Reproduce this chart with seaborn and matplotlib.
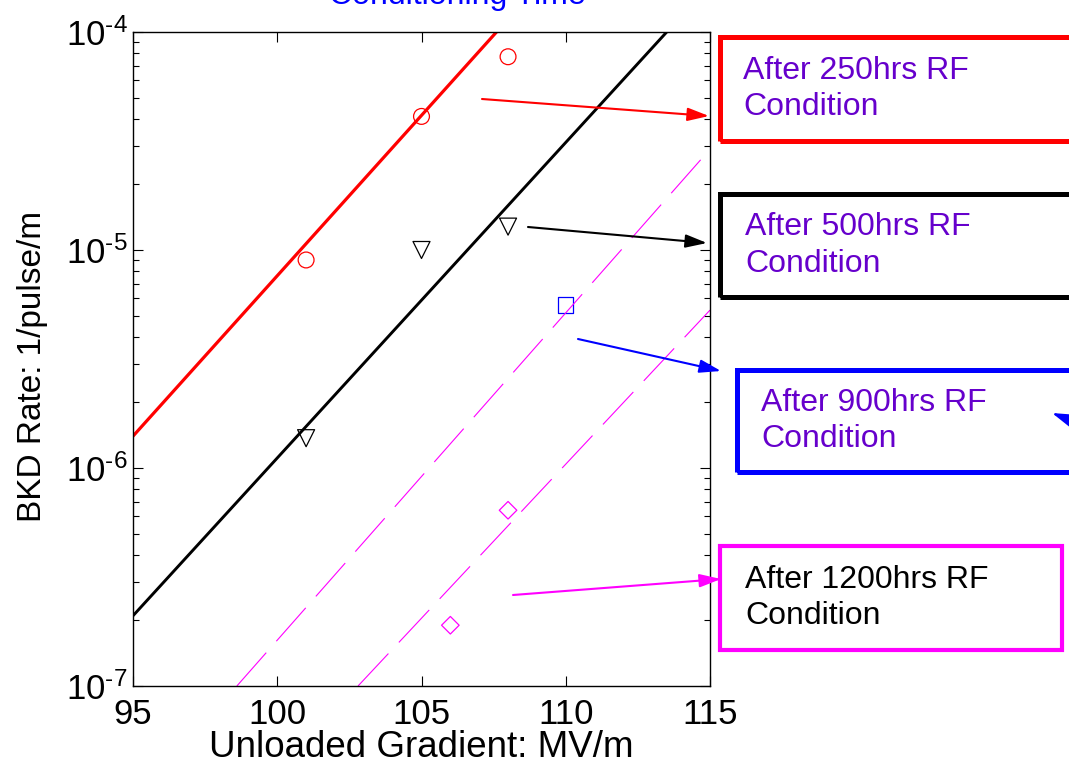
import seaborn as sns
import matplotlib.pyplot as plt
from matplotlib.patches import Rectangle
from matplotlib.ticker import LogLocator, NullFormatter, FixedLocator

# fitted lines (end points inside the visible window)
red_fit_x = [95.0, 107.6]
red_fit_y = [1.4e-6, 1.0e-4]
black_fit_x = [95.0, 113.5]
black_fit_y = [2.1e-7, 1.0e-4]
mag_fit1_x = [98.6, 115.0]
mag_fit1_y = [1.0e-7, 2.9e-5]
mag_fit2_x = [102.8, 115.0]
mag_fit2_y = [1.0e-7, 5.3e-6]

# measured points
red_x = [101, 105, 108]
red_y = [9.0e-6, 4.1e-5, 7.7e-5]
black_x = [101, 105, 108]
black_y = [1.37e-6, 1.0e-5, 1.28e-5]
blue_x = [110]
blue_y = [5.6e-6]
mag_x = [106, 108]
mag_y = [1.9e-7, 6.4e-7]

x_ticks = [95, 100, 105, 110, 115]
y_ticks = [1e-7, 1e-6, 1e-5, 1e-4]
y_tick_labels = [r"$10^{\text{-}7}$", r"$10^{\text{-}6}$",
                 r"$10^{\text{-}5}$", r"$10^{\text{-}4}$"]

box_labels = ["After 250hrs RF\nCondition", "After 500hrs RF\nCondition",
              "After 900hrs RF\nCondition", "After 1200hrs RF\nCondition"]

sns.set_style("ticks")
plt.rcParams["font.family"] = ["Liberation Sans", "DejaVu Sans"]
plt.rcParams["mathtext.fontset"] = "custom"
plt.rcParams["mathtext.rm"] = "Liberation Sans"
plt.rcParams["mathtext.it"] = "Liberation Sans"
plt.rcParams["lines.scale_dashes"] = False
for key in ["text.color", "axes.labelcolor", "xtick.color", "ytick.color"]:
    plt.rcParams[key] = "black"

W, H = 1069, 765
fig = plt.figure(figsize=(W / 100, H / 100), dpi=100)
ax = fig.add_axes([133 / W, 1 - 686 / H, (710 - 133) / W, (686 - 32) / H])


def fx(px):
    return px / W


def fy(py):
    return 1 - py / H


sns.lineplot(x=red_fit_x, y=red_fit_y, ax=ax, color="red", lw=2.3)
sns.lineplot(x=black_fit_x, y=black_fit_y, ax=ax, color="black", lw=2.1)
for xs, ys in [(mag_fit1_x, mag_fit1_y), (mag_fit2_x, mag_fit2_y)]:
    sns.lineplot(x=xs, y=ys, ax=ax, color="magenta", lw=0.8)
    ax.lines[-1].set_dashes((32, 11))

sns.scatterplot(x=red_x, y=red_y, ax=ax, marker="o", s=130,
                facecolor="none", edgecolor="red", linewidth=0.9)
sns.scatterplot(x=black_x, y=black_y, ax=ax, marker="v", s=150,
                facecolor="none", edgecolor="black", linewidth=0.9)
sns.scatterplot(x=blue_x, y=blue_y, ax=ax, marker="s", s=120,
                facecolor="none", edgecolor="blue", linewidth=0.9)
sns.scatterplot(x=mag_x, y=mag_y, ax=ax, marker="D", s=80,
                facecolor="none", edgecolor="magenta", linewidth=0.9)

ax.set_yscale("log")
ax.set_xlim(95, 115)
ax.set_ylim(1e-7, 1e-4)
ax.xaxis.set_major_locator(FixedLocator(x_ticks))
ax.set_xticklabels([str(t) for t in x_ticks], fontsize=25)
ax.yaxis.set_major_locator(FixedLocator(y_ticks))
ax.set_yticklabels(y_tick_labels, fontsize=25)
ax.yaxis.set_minor_locator(LogLocator(base=10, subs=range(2, 10)))
ax.yaxis.set_minor_formatter(NullFormatter())
ax.tick_params(which="both", direction="in", top=True, right=True,
               width=0.8, color="black", labelcolor="black")
ax.tick_params(which="major", length=7)
ax.tick_params(axis="x", which="major", pad=9)
ax.tick_params(axis="y", which="major", pad=4)
ax.tick_params(which="minor", length=4)
for sp in ax.spines.values():
    sp.set_linewidth(1.0)
    sp.set_color("black")
ax.set_xlabel("Unloaded Gradient: MV/m", fontsize=26.5, labelpad=-1)
ax.set_ylabel("BKD Rate: 1/pulse/m", fontsize=24)
ax.yaxis.set_label_coords(-0.148, 0.488)

fig.text(fx(457), fy(4), "Conditioning Time", color="blue", fontsize=23,
         ha="center", va="baseline")

# label boxes
boxes = [
    (720, 37, 400, 104, "red", 3.6, "#6600CC", 743),
    (720, 194, 400, 103, "black", 3.6, "#6600CC", 745),
    (737, 370, 400, 102, "blue", 3.6, "#6600CC", 761),
    (720, 546, 342, 104, "magenta", 3.0, "black", 745),
]
for (bx, by, bw, bh, ec, lw, tc, tx), label in zip(boxes, box_labels):
    fig.add_artist(Rectangle((fx(bx), fy(by + bh)), bw / W, bh / H,
                             transform=fig.transFigure, fill=False,
                             edgecolor=ec, linewidth=lw))
    fig.text(fx(tx), fy(by + bh / 2), label, color=tc, fontsize=23,
             ha="left", va="center", linespacing=1.3)

# arrows
arrows = [
    ((482, 99), (709, 116), "red"),
    ((528, 227), (707, 243), "black"),
    ((578, 339), (721, 371), "blue"),
    ((513, 595), (721, 579), "magenta"),
    ((1075, 422), (1052, 413), "blue"),
]
for (x0, y0), (x1, y1), c in arrows:
    ax.annotate("", xy=(fx(x1), fy(y1)), xytext=(fx(x0), fy(y0)),
                xycoords="figure fraction", textcoords="figure fraction",
                annotation_clip=False,
                arrowprops=dict(arrowstyle="-|>,head_length=1.3,head_width=0.4",
                                color=c, lw=1.5, shrinkA=0, shrinkB=0))

fig.savefig("out.png", dpi=100)
